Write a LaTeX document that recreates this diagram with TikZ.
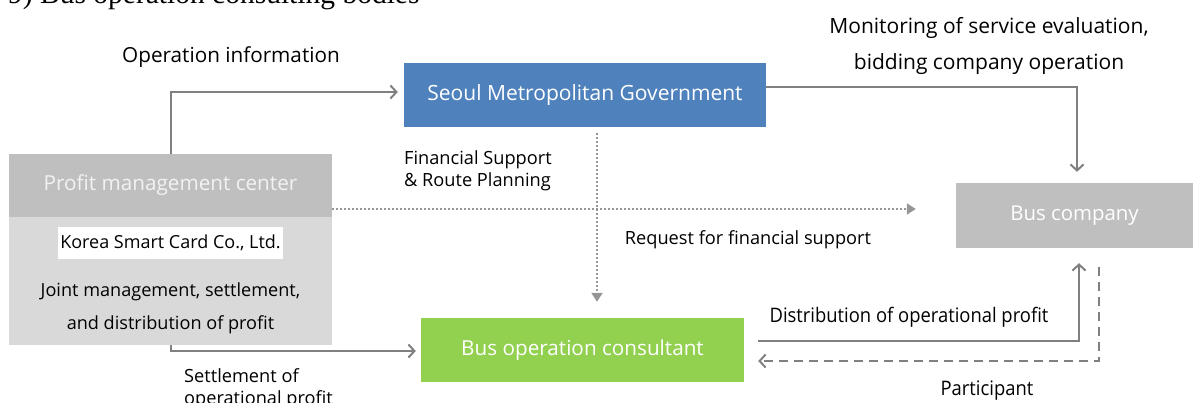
\documentclass[tikz,border=0pt]{standalone}
\usepackage{fontspec}
\setmainfont{Open Sans}
\newfontfamily\titlefont{Liberation Serif}
\newfontfamily\narrowfont[FakeStretch=0.92]{Open Sans}
\usepackage{tikz}
\usetikzlibrary{arrows.meta,calc}
\definecolor{smgblue}{HTML}{4F81BD}
\definecolor{consgreen}{HTML}{92D050}
\definecolor{headgray}{HTML}{BFBFBF}
\definecolor{bodygray}{HTML}{D9D9D9}
\definecolor{linegray}{HTML}{808080}
\definecolor{dotgray}{HTML}{969696}

\begin{document}
\begin{tikzpicture}[x=1pt,y=-1pt,
	box/.style={inner sep=0,minimum height=64pt,text=white,font=\fontsize{20.7}{24}\selectfont},
	flow/.style={draw=linegray,line width=2pt,-{Straight Barb[length=6pt,width=13pt,line width=2pt]}},
	dotflow/.style={draw=dotgray,line width=2pt,dotted,-{Triangle[length=9pt,width=11pt]}},
	note/.style={inner sep=0,font=\fontsize{18.2}{22}\selectfont}]
\useasboundingbox (0,0) rectangle (1193,403);
\node [anchor=base west,inner sep=0,font=\titlefont\fontsize{29.5}{32}\selectfont] (title) at (8,4) {9) Bus operation consulting bodies};
\node [box,fill=smgblue,minimum width=362pt,font=\fontsize{21}{24}\selectfont] (smg) at (585,95) {Seoul Metropolitan Government};
\node [box,fill=headgray,minimum width=323pt,minimum height=63pt,text=white!95!black] (pmc) at (170.5,185.5) {Profit management center};
\node [fill=bodygray,inner sep=0,minimum width=323pt,minimum height=128pt] (pmcbody) at (170.5,281) {};
\node [fill=white,inner sep=0,minimum width=225pt,minimum height=32pt,font=\fontsize{18}{20}\selectfont] (ksc) at (170.5,243) {Korea Smart Card Co., Ltd.};
\node [align=center,inner sep=0,font=\fontsize{18.1}{33}\selectfont] (joint) at (170.5,308.5) {Joint management, settlement,\\and distribution of profit};
\node [box,fill=headgray,minimum width=237pt,minimum height=65pt,font=\fontsize{20.4}{24}\selectfont] (bus) at (1074.5,215.5) {Bus company};
\node [box,fill=consgreen,minimum width=323pt] (boc) at (582.5,350) {Bus operation consultant};
\coordinate (vx) at (597,0);
\draw [flow,shorten >=6pt] (pmc.north) |- ([yshift=3pt]smg.west);
\draw [flow,shorten >=11pt] ([yshift=8pt]smg.east) -| ([xshift=2.5pt]bus.north);
\draw [dotflow,shorten <=6pt,shorten >=16pt] (smg.south -| vx) -- (boc.north -| vx);
\draw [dotflow,shorten >=40pt] ([yshift=-23.5pt]pmc.east) -- ([yshift=-23.5pt]pmc.east -| bus.west);
\draw [flow,shorten >=5pt] (pmcbody.south) |- ([yshift=-1pt]boc.west);
\draw [flow,shorten <=14pt] ([yshift=9pt]boc.east) -| ([xshift=4.5pt,yshift=-15pt]bus.south);
\draw [flow,dashed,dash pattern=on 9pt off 6pt] ([xshift=24.5pt,yshift=-19pt]bus.south) |- ([xshift=14pt,yshift=-11pt]boc.east);
\node [note,font=\fontsize{20.7}{24}\selectfont] (opinfo) at (231,57.5) {Operation information};
\node [note,align=center,font=\fontsize{21}{36}\selectfont] (monitor) at (989,46) {Monitoring of service evaluation,\\bidding company operation};
\node [note,align=left,anchor=west] (finsup) at (404,170.5) {Financial Support\\\& Route Planning};
\node [note] (request) at (748,240) {Request for financial support};
\node [note,align=left,anchor=west] (settle) at (184,389) {Settlement of\\operational profit};
\node [note,font=\narrowfont\fontsize{20}{22}\selectfont] (distrib) at (909,317) {Distribution of operational profit};
\node [note,font=\narrowfont\fontsize{20}{22}\selectfont] (partic) at (987,391) {Participant};
\end{tikzpicture}
\end{document}
